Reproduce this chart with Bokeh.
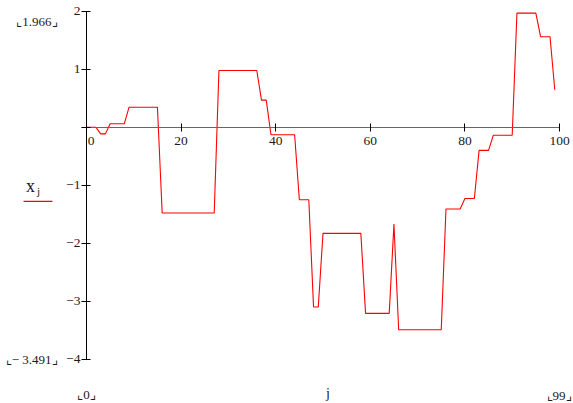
from bokeh.plotting import figure
from bokeh.models import LinearAxis, FixedTicker, CustomJSTickFormatter, Label, BoxAnnotation, Range1d
from bokeh.embed import file_html
from bokeh.resources import INLINE

# ---- data -------------------------------------------------------------
j = list(range(100))
x_j = [0.0, 0.0, 0.0, -0.115, -0.115, 0.06, 0.06, 0.06, 0.06, 0.345,
       0.345, 0.345, 0.345, 0.345, 0.345, 0.345, -1.48, -1.48, -1.48, -1.48,
       -1.48, -1.48, -1.48, -1.48, -1.48, -1.48, -1.48, -1.48, 0.977, 0.977,
       0.977, 0.977, 0.977, 0.977, 0.977, 0.977, 0.977, 0.466, 0.466, -0.13,
       -0.13, -0.13, -0.13, -0.13, -0.13, -1.25, -1.25, -1.25, -3.10, -3.10,
       -1.83, -1.83, -1.83, -1.83, -1.83, -1.83, -1.83, -1.83, -1.83, -3.21,
       -3.21, -3.21, -3.21, -3.21, -3.21, -1.67, -3.491, -3.491, -3.491, -3.491,
       -3.491, -3.491, -3.491, -3.491, -3.491, -3.491, -1.41, -1.41, -1.41, -1.41,
       -1.23, -1.23, -1.23, -0.40, -0.40, -0.40, -0.14, -0.14, -0.14, -0.14,
       -0.14, 1.966, 1.966, 1.966, 1.966, 1.966, 1.56, 1.56, 1.56, 0.645]
x_ticks = [0, 20, 40, 60, 80, 100]
y_ticks = [-4, -3, -2, -1, 0, 1, 2]
x_lim = (0, 100)
y_lim = (-4, 2)

# ---- layout (pixels on the canvas) ---------------------------------------
W, H = 573, 403
AX_LEFT, AX_RIGHT = 86.0, 559.0      # where x_lim sits
AX_TOP, AX_BOTTOM = 10.7, 358.7      # where y_lim sits
sx = (AX_RIGHT - AX_LEFT) / (x_lim[1] - x_lim[0])
sy = (AX_BOTTOM - AX_TOP) / (y_lim[1] - y_lim[0])
xr = Range1d(x_lim[0] - AX_LEFT / sx, x_lim[1] + (W - AX_RIGHT) / sx)
yr = Range1d(y_lim[0] - (H - AX_BOTTOM) / sy, y_lim[1] + AX_TOP / sy)

FONT = "Liberation Serif"
TXT = "#1a1a1a"
FS = "13.5px"

p = figure(width=W, height=H, x_range=xr, y_range=yr,
           x_axis_type=None, y_axis_type=None, output_backend="svg",
           toolbar_location=None, min_border=0)
p.outline_line_color = None
p.background_fill_color = "white"
p.border_fill_color = "white"

yfmt = CustomJSTickFormatter(code="""
if (tick == 0) { return ''; }
return tick < 0 ? '\u2212' + Math.abs(tick) : String(tick);
""")
yaxis = LinearAxis(ticker=FixedTicker(ticks=y_ticks), formatter=yfmt,
                   fixed_location=x_lim[0], bounds=y_lim,
                   axis_line_color="black", axis_line_width=1,
                   major_tick_line_color="black", major_tick_in=4, major_tick_out=5,
                   minor_tick_line_color=None, major_label_standoff=1,
                   major_label_text_font=FONT, major_label_text_font_size=FS,
                   major_label_text_color=TXT)
p.add_layout(yaxis, "left")

xaxis = LinearAxis(ticker=FixedTicker(ticks=x_ticks), fixed_location=0,
                   bounds=(x_lim[0] - 1, x_lim[1]),
                   axis_line_color="#666666", axis_line_width=1.2,
                   major_tick_line_color="black", major_tick_in=4, major_tick_out=4,
                   minor_tick_line_color=None, major_label_standoff=2,
                   major_label_overrides={0: "\u2002\u20090"},
                   major_label_text_font=FONT, major_label_text_font_size=FS,
                   major_label_text_color=TXT)
p.add_layout(xaxis, "below")

p.line(j, x_j, line_color="red", line_width=1.1)

def lab(text, x, y, xo=0, yo=0, align="center", size="13px"):
    p.add_layout(Label(x=x, y=y, x_offset=xo, y_offset=yo, text=text,
                       text_align=align, text_baseline="middle",
                       text_font=FONT, text_font_size=size, text_color=TXT))

ymax = max(x_j)
ymin = min(x_j)
lab("\u231e%.3f\u231f" % ymax, x_lim[0], y_lim[1], xo=-29, yo=-10, align="right")
lab("\u231e\u2212 %.3f\u231f" % abs(ymin), x_lim[0], y_lim[0], xo=-29, yo=0, align="right")
lab("\u231e%d\u231f" % j[0], x_lim[0], y_lim[0], xo=0, yo=-35)
lab("\u231e%d\u231f" % j[-1], x_lim[1], y_lim[0], xo=12, yo=-36, align="right")
lab("j", 50, y_lim[0], xo=5, yo=-34, size="14px")
# legend: x_j above a red sample line
lab("x", x_lim[0], -1, xo=-56, yo=-1, size="18px")
lab("j", x_lim[0], -1, xo=-48, yo=-6, size="11px")
p.add_layout(BoxAnnotation(left=-13.3, right=-7.2, bottom=-1.291, top=-1.270,
                           fill_color="red", fill_alpha=1, line_color=None))

open("out.html", "w").write(file_html(p, INLINE))
